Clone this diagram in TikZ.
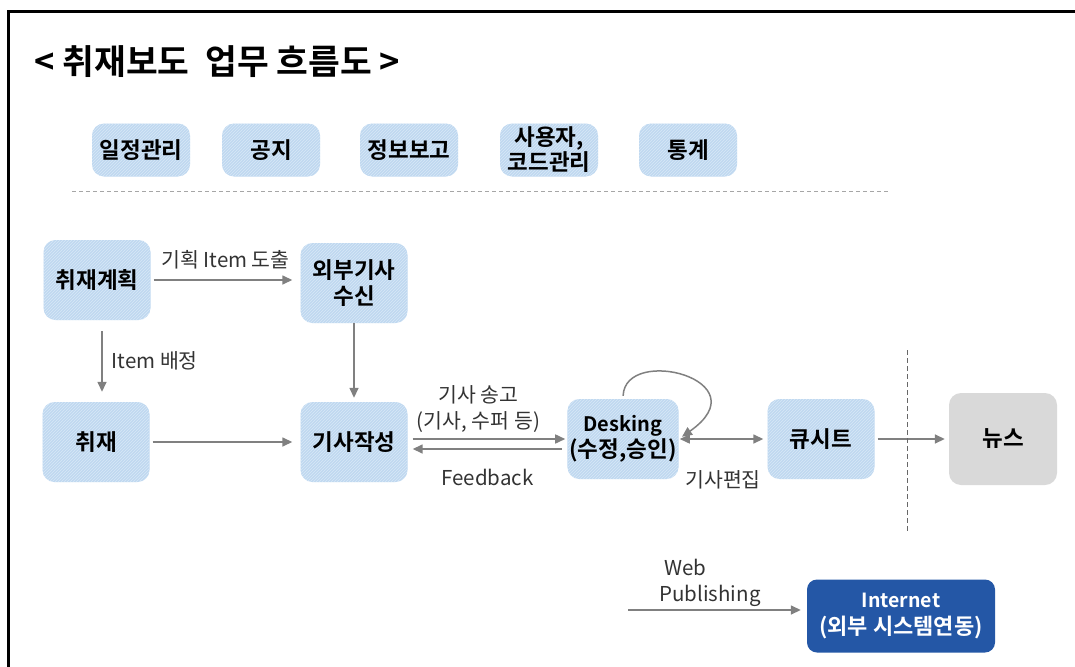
\documentclass[tikz,border=0pt]{standalone}
\usepackage{fontspec}
\setmainfont{Noto Sans CJK KR}[BoldFont={Noto Sans CJK KR Bold}]
\usetikzlibrary{arrows.meta,patterns}
\definecolor{boxblue}{HTML}{BFD8F0}
\definecolor{stripe}{HTML}{D8E8F7}
\definecolor{arrowgray}{HTML}{808080}
\definecolor{newsgray}{HTML}{D9D9D9}
\definecolor{netblue}{HTML}{2457A6}
\definecolor{labeltext}{HTML}{333333}
\newcommand\boxfont{\bfseries\fontsize{22.5}{26}\selectfont}
\newcommand\lblfont{\fontsize{20.5}{26}\selectfont}

\tikzset{
  task/.style={rounded corners=12pt,fill=boxblue,postaction={pattern=north east lines,pattern color=stripe},
    minimum width=107pt,minimum height=80pt,align=center,font=\boxfont,inner sep=2pt},
  menu/.style={task,minimum width=98pt,minimum height=53pt},
  flow/.style={-{Triangle[length=10pt,width=9pt]},arrowgray,line width=1.5pt,shorten >=4pt,shorten <=3pt},
  lbl/.style={font=\lblfont,text=labeltext,align=center,inner sep=0pt}
}

\begin{document}
\begin{tikzpicture}[x=1pt,y=-1pt]
\useasboundingbox (0,0) rectangle (1075,666);
\draw[line width=3pt] (8,680) -- (8,12) -- (1090,12);
\node[anchor=west,font=\bfseries\fontsize{34.5}{38}\selectfont] (title) at (31,62) {< 취재보도\ \ 업무 흐름도 >};

% common functions
\node[menu] (sched) at (141,150) {일정관리};
\node[menu] (notice) at (271,150) {공지};
\node[menu] (report) at (409,150) {정보보고};
\node[menu,font=\bfseries\fontsize{22.5}{25}\selectfont] (users) at (549,150) {사용자,\\코드관리};
\node[menu] (stats) at (688,150) {통계};
\draw[arrowgray!70,line width=1pt,dash pattern=on 4pt off 3pt] (72,191) -- (888,191);

% main flow
\node[task] (plan) at (97,280) {취재계획};
\node[task] (ext) at (354,283) {외부기사\\수신};
\node[task] (cover) at (96,442) {취재};
\node[task] (write) at (354,442) {기사작성};
\node[task] (desk) at (623,439) {{\fontsize{20}{26}\selectfont Desking}\\(수정,승인)};
\node[task] (cue) at (821,439) {큐시트};
\node[rounded corners=12pt,fill=newsgray,minimum width=108pt,minimum height=92pt,font=\boxfont] (news) at (1003,439) {뉴스};
\node[rounded corners=10pt,fill=netblue,text=white,minimum width=188pt,minimum height=73pt,align=center,font=\bfseries\fontsize{22}{27}\selectfont] (net) at (901,616) {{\fontsize{19.5}{27}\selectfont Internet}\\(외부 시스템연동)};

\draw[flow,shorten >=8pt] (plan.east) -- (plan.east -| ext.west) node[lbl,midway,above=10pt] {기획 Item 도출};
\draw[flow,shorten <=11pt,shorten >=10pt] ([xshift=5pt]plan.south) -- ([xshift=5pt]plan.south |- cover.north) node[lbl,midway,right=9pt] {Item 배정};
\draw[flow,shorten <=0pt] (ext) -- (write);
\draw[flow,shorten >=8pt] (cover) -- (write);
\draw[flow,shorten <=5pt,shorten >=2pt] ([yshift=3pt]write.east) -- ([yshift=3pt]write.east -| desk.west)
  node[lbl,midway,above=6pt,xshift=-9pt] {기사 송고\\(기사, 수퍼 등)};
\draw[flow,shorten <=5pt,shorten >=5pt] ([yshift=-10pt]desk.west) -- ([yshift=-10pt]desk.west -| write.east)
  node[lbl,midway,below=19pt] {Feedback};
\draw[flow] (desk.north) .. controls +(2,-54) and +(84,-59) .. (desk.east);
\draw[flow,{Triangle[length=10pt,width=9pt]}-{Triangle[length=10pt,width=9pt]},shorten <=1pt] (desk.east) -- (cue.west)
  node[lbl,midway,below=31pt] {기사편집};
\draw[flow] (cue) -- (news);
\draw[arrowgray!80!black,line width=1pt,dash pattern=on 5pt off 3pt] (907,350) -- (907,532);

% web publishing
\coordinate (webin) at (628,610);
\draw[flow,shorten <=0pt,shorten >=6pt] (webin) -- (webin -| net.west);
\node[lbl,align=left] (weblbl) at (710,583) {\hspace{5pt}Web\\Publishing};
\end{tikzpicture}
\end{document}
